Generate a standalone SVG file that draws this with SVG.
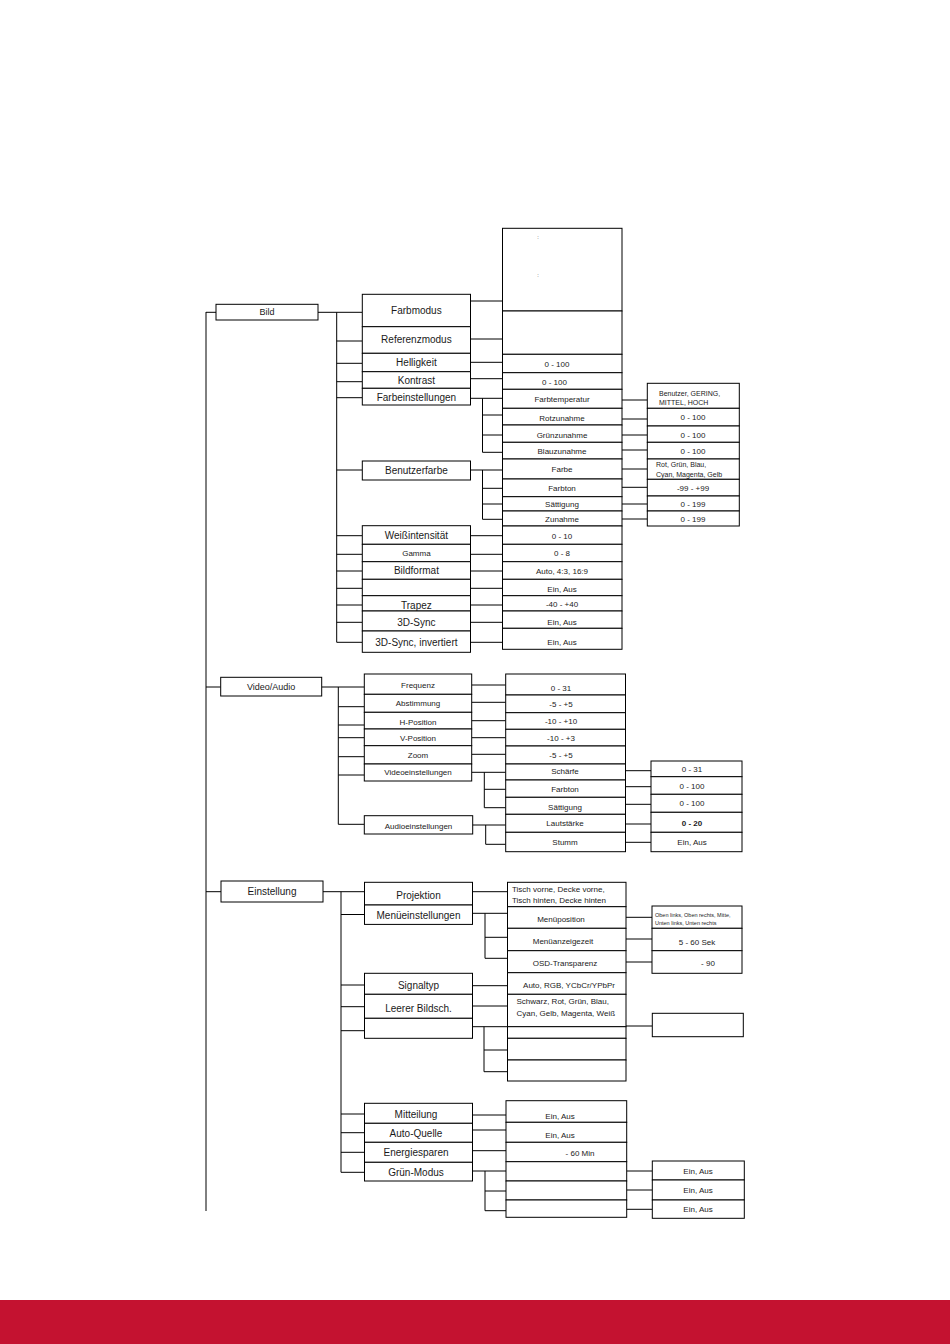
<svg xmlns="http://www.w3.org/2000/svg" width="950" height="1344" viewBox="0 0 950 1344">
<style>
.b{fill:#fff;stroke:#000;stroke-width:1}
.c{fill:none;stroke:#000;stroke-width:1}
text{font-family:"Liberation Sans",Arial,sans-serif;fill:#1a1a1a;text-anchor:middle}
.s{text-anchor:start}
.t10{font-size:10px}
.t9{font-size:9px}
.t8{font-size:8px}
.t7{font-size:7px}
.t5{font-size:5.5px}
.bd{font-weight:bold}
</style>
<rect x="0" y="0" width="950" height="1344" fill="#fff"/>
<g id="connectors">
<path class="c" d="M206 312 V1211 M206 312.3 H216 M206 687 H220.7 M206 891.7 H221
M318 312.3 H362 M336.7 312.3 V642.3 M336.7 341 H362 M336.7 363.3 H362 M336.7 381.7 H362 M336.7 397.7 H362 M336.7 470 H362 M336.7 535.7 H362 M336.7 554.3 H362 M336.7 571 H362 M336.7 588.3 H362 M336.7 605 H362 M336.7 622.3 H362 M336.7 642.3 H362
M470.5 301 H502.5 M470.5 339 H502.5 M470.5 362.3 H502.5 M470.5 378.7 H502.5 M470.5 398.3 H502.5 M482.5 398.3 V452.3 M482.5 415 H502.5 M482.5 435 H502.5 M482.5 452.3 H502.5 M470.5 470 H502.5 M482.5 470 V519.3 M482.5 488.3 H502.5 M482.5 504 H502.5 M482.5 519.3 H502.5 M470.5 535.7 H502.5 M470.5 554.3 H502.5 M470.5 571 H502.5 M470.5 588.3 H502.5 M470.5 605 H502.5 M470.5 622.3 H502.5 M470.5 642.3 H502.5
M622 400 H647.3 M622 419 H647.3 M622 435 H647.3 M622 450 H647.3 M622 469 H647.3 M622 487.3 H647.3 M622 504 H647.3 M622 519 H647.3
M321.7 687 H364.3 M338.3 687 V824.3 M338.3 706.7 H364.3 M338.3 725 H364.3 M338.3 737.7 H364.3 M338.3 756.7 H364.3 M338.3 775 H364.3 M338.3 824.3 H364.3
M471.7 685 H505.7 M471.7 702.3 H505.7 M471.7 720.7 H505.7 M471.7 737.7 H505.7 M471.7 754.3 H505.7 M471.7 772.3 H505.7 M484.3 772.3 V807.7 M484.3 789.3 H505.7 M484.3 807.7 H505.7 M471.7 825 H505.7 M485.7 825 V844.3 H505.7
M625.5 770.7 H651 M625.5 786.7 H651 M625.5 804.3 H651 M625.5 824 H651 M625.5 842.3 H651
M323 891.7 H364.5 M341 891.7 V1172.3 M341 914.5 H364.5 M341 985 H364.5 M341 1006.7 H364.5 M341 1030.7 H364.5 M341 1114 H364.5 M341 1132.7 H364.5 M341 1152.3 H364.5 M341 1172.3 H364.5
M472.5 891.7 H507.5 M472.5 913.3 H507.5 M485 913.3 V958.3 M485 937.3 H507.5 M485 958.3 H507.5 M472.5 985.7 H507.5 M472.5 1006 H507.5 M472.5 1026.7 H507.5 M484 1026.7 V1071.7 M484 1050 H507.5 M484 1071.7 H507.5
M472.5 1115 H506 M472.5 1130 H506 M472.5 1150.7 H506 M472.5 1171 H506 M485 1171 V1210.7 M485 1191 H506 M485 1210.7 H506
M626 917.3 H652 M626 939 H652 M626 962 H652 M626 1026 H652.3 M626.7 1171 H652.3 M626.7 1190 H652.3 M626.7 1209.3 H652.3"/>
</g>

<!-- Bild -->
<g id="bild"><rect class="b" x="216" y="304.3" width="102" height="15.7"/><text class="t9" x="267" y="315.3">Bild</text></g>
<g id="farbmodus"><rect class="b" x="362.3" y="294.3" width="108.2" height="32.4"/><text class="t10" x="416.4" y="313.5">Farbmodus</text></g>
<g id="referenzmodus"><rect class="b" x="362.3" y="326.7" width="108.2" height="26.6"/><text class="t10" x="416.4" y="342.5">Referenzmodus</text></g>
<g id="helligkeit"><rect class="b" x="362.3" y="353.3" width="108.2" height="18.4"/><text class="t10" x="416.4" y="365.5">Helligkeit</text></g>
<g id="kontrast"><rect class="b" x="362.3" y="371.7" width="108.2" height="16.6"/><text class="t10" x="416.4" y="383.5">Kontrast</text></g>
<g id="farbeinstellungen"><rect class="b" x="362.3" y="388.3" width="108.2" height="16.7"/><text class="t10" x="416.4" y="400.8">Farbeinstellungen</text></g>
<g id="benutzerfarbe"><rect class="b" x="362.3" y="461" width="108.2" height="19"/><text class="t10" x="416.4" y="473.7">Benutzerfarbe</text></g>
<g id="weissintensitaet"><rect class="b" x="362.3" y="525.7" width="108.2" height="18.6"/><text class="t10" x="416.4" y="538.8">Weißintensität</text></g>
<g id="gamma"><rect class="b" x="362.3" y="544.3" width="108.2" height="17.4"/><text class="t8" x="416.4" y="556">Gamma</text></g>
<g id="bildformat"><rect class="b" x="362.3" y="561.7" width="108.2" height="17.6"/><text class="t10" x="416.4" y="574">Bildformat</text></g>
<g id="bild-blank"><rect class="b" x="362.3" y="579.3" width="108.2" height="16.4"/></g>
<g id="trapez"><rect class="b" x="362.3" y="595.7" width="108.2" height="15.3"/><text class="t10" x="416.4" y="608.7">Trapez</text></g>
<g id="sync3d"><rect class="b" x="362.3" y="611" width="108.2" height="20"/><text class="t10" x="416.4" y="625.8">3D-Sync</text></g>
<g id="sync3d-inv"><rect class="b" x="362.3" y="631" width="108.2" height="21.3"/><text class="t10" x="416.4" y="645.8">3D-Sync, invertiert</text></g>

<g id="farbmodus-val"><rect class="b" x="502.5" y="228.3" width="119.5" height="82.7"/><text class="t5" x="538" y="238.5">:</text><text class="t5" x="538" y="277">:</text></g>
<g id="referenzmodus-val"><rect class="b" x="502.5" y="311" width="119.5" height="43.3"/></g>
<g id="helligkeit-val"><rect class="b" x="502.5" y="354.3" width="119.5" height="18.4"/><text class="t8" x="557" y="366.8">0 - 100</text></g>
<g id="kontrast-val"><rect class="b" x="502.5" y="372.7" width="119.5" height="16.6"/><text class="t8" x="554.5" y="385">0 - 100</text></g>
<g id="farbtemperatur"><rect class="b" x="502.5" y="389.3" width="119.5" height="19"/><text class="t8" x="562" y="401.5">Farbtemperatur</text></g>
<g id="rotzunahme"><rect class="b" x="502.5" y="408.3" width="119.5" height="16.7"/><text class="t8" x="562" y="420.5">Rotzunahme</text></g>
<g id="gruenzunahme"><rect class="b" x="502.5" y="425" width="119.5" height="17.3"/><text class="t8" x="562" y="437.8">Grünzunahme</text></g>
<g id="blauzunahme"><rect class="b" x="502.5" y="442.3" width="119.5" height="16.7"/><text class="t8" x="562" y="453.7">Blauzunahme</text></g>
<g id="farbe"><rect class="b" x="502.5" y="459" width="119.5" height="20"/><text class="t8" x="562" y="472.3">Farbe</text></g>
<g id="farbton"><rect class="b" x="502.5" y="479" width="119.5" height="17.7"/><text class="t8" x="562" y="491.3">Farbton</text></g>
<g id="saettigung"><rect class="b" x="502.5" y="496.7" width="119.5" height="14.3"/><text class="t8" x="562" y="507">Sättigung</text></g>
<g id="zunahme"><rect class="b" x="502.5" y="511" width="119.5" height="15"/><text class="t8" x="562" y="522">Zunahme</text></g>
<g id="weiss-val"><rect class="b" x="502.5" y="526" width="119.5" height="18.3"/><text class="t8" x="562" y="538.7">0 - 10</text></g>
<g id="gamma-val"><rect class="b" x="502.5" y="544.3" width="119.5" height="17.4"/><text class="t8" x="562" y="556">0 - 8</text></g>
<g id="bildformat-val"><rect class="b" x="502.5" y="561.7" width="119.5" height="17.6"/><text class="t8" x="562" y="574">Auto, 4:3, 16:9</text></g>
<g id="blank-val"><rect class="b" x="502.5" y="579.3" width="119.5" height="16.4"/><text class="t8" x="562" y="592">Ein, Aus</text></g>
<g id="trapez-val"><rect class="b" x="502.5" y="595.7" width="119.5" height="15.3"/><text class="t8" x="562" y="607.3">-40 - +40</text></g>
<g id="sync3d-val"><rect class="b" x="502.5" y="611" width="119.5" height="17.3"/><text class="t8" x="562" y="625.3">Ein, Aus</text></g>
<g id="sync3d-inv-val"><rect class="b" x="502.5" y="628.3" width="119.5" height="21"/><text class="t8" x="562" y="645.3">Ein, Aus</text></g>

<g id="farbtemperatur-val"><rect class="b" x="647.3" y="383.3" width="92" height="25"/><text class="t7 s" x="659" y="395.5">Benutzer, GERING,</text><text class="t7 s" x="659" y="404.5">MITTEL, HOCH</text></g>
<g id="rot-val"><rect class="b" x="647.3" y="408.3" width="92" height="17.7"/><text class="t8" x="693" y="420.3">0 - 100</text></g>
<g id="gruen-val"><rect class="b" x="647.3" y="426" width="92" height="16.3"/><text class="t8" x="693" y="437.5">0 - 100</text></g>
<g id="blau-val"><rect class="b" x="647.3" y="442.3" width="92" height="16.7"/><text class="t8" x="693" y="453.5">0 - 100</text></g>
<g id="farbe-val"><rect class="b" x="647.3" y="459" width="92" height="20.3"/><text class="t7 s" x="656" y="466.8">Rot, Grün, Blau,</text><text class="t7 s" x="656" y="476.8">Cyan, Magenta, Gelb</text></g>
<g id="farbton-val"><rect class="b" x="647.3" y="479.3" width="92" height="16.7"/><text class="t8" x="693" y="490.5">-99 - +99</text></g>
<g id="saettigung-val"><rect class="b" x="647.3" y="496" width="92" height="15"/><text class="t8" x="693" y="506.5">0 - 199</text></g>
<g id="zunahme-val"><rect class="b" x="647.3" y="511" width="92" height="15"/><text class="t8" x="693" y="521.5">0 - 199</text></g>

<!-- Video/Audio -->
<g id="videoaudio"><rect class="b" x="220.7" y="677.3" width="101" height="18.7"/><text class="t9" x="271.2" y="690">Video/Audio</text></g>
<g id="frequenz"><rect class="b" x="364.3" y="674" width="107.4" height="20.3"/><text class="t8" x="418" y="688">Frequenz</text></g>
<g id="abstimmung"><rect class="b" x="364.3" y="694.3" width="107.4" height="18"/><text class="t8" x="418" y="705.7">Abstimmung</text></g>
<g id="hposition"><rect class="b" x="364.3" y="712.3" width="107.4" height="16.7"/><text class="t8" x="418" y="724.7">H-Position</text></g>
<g id="vposition"><rect class="b" x="364.3" y="729" width="107.4" height="16.7"/><text class="t8" x="418" y="740.7">V-Position</text></g>
<g id="zoom"><rect class="b" x="364.3" y="745.7" width="107.4" height="18.3"/><text class="t8" x="418" y="758">Zoom</text></g>
<g id="videoeinstellungen"><rect class="b" x="364.3" y="764" width="107.4" height="17"/><text class="t8" x="418" y="775.3">Videoeinstellungen</text></g>
<g id="audioeinstellungen"><rect class="b" x="364.3" y="815.7" width="108.4" height="18.3"/><text class="t8" x="418.5" y="828.7">Audioeinstellungen</text></g>

<g id="frequenz-val"><rect class="b" x="505.7" y="674" width="119.8" height="21"/><text class="t8" x="561" y="690.7">0 - 31</text></g>
<g id="abstimmung-val"><rect class="b" x="505.7" y="695" width="119.8" height="17.7"/><text class="t8" x="561" y="707.3">-5 - +5</text></g>
<g id="hposition-val"><rect class="b" x="505.7" y="712.7" width="119.8" height="16.6"/><text class="t8" x="561" y="724">-10 - +10</text></g>
<g id="vposition-val"><rect class="b" x="505.7" y="729.3" width="119.8" height="16.7"/><text class="t8" x="561" y="740.7">-10 - +3</text></g>
<g id="zoom-val"><rect class="b" x="505.7" y="746" width="119.8" height="18"/><text class="t8" x="561" y="758">-5 - +5</text></g>
<g id="schaerfe"><rect class="b" x="505.7" y="764" width="119.8" height="16"/><text class="t8" x="565" y="773.7">Schärfe</text></g>
<g id="v-farbton"><rect class="b" x="505.7" y="780" width="119.8" height="17.3"/><text class="t8" x="565" y="792.3">Farbton</text></g>
<g id="v-saettigung"><rect class="b" x="505.7" y="797.3" width="119.8" height="17"/><text class="t8" x="565" y="809.7">Sättigung</text></g>
<g id="lautstaerke"><rect class="b" x="505.7" y="814.3" width="119.8" height="18"/><text class="t8" x="565" y="826.3">Lautstärke</text></g>
<g id="stumm"><rect class="b" x="505.7" y="832.3" width="119.8" height="19.4"/><text class="t8" x="565" y="845.3">Stumm</text></g>

<g id="schaerfe-val"><rect class="b" x="651" y="761" width="91" height="15.7"/><text class="t8" x="692" y="772.3">0 - 31</text></g>
<g id="v-farbton-val"><rect class="b" x="651" y="776.7" width="91" height="17.6"/><text class="t8" x="692" y="788.5">0 - 100</text></g>
<g id="v-saettigung-val"><rect class="b" x="651" y="794.3" width="91" height="18"/><text class="t8" x="692" y="806.3">0 - 100</text></g>
<g id="lautstaerke-val"><rect class="b" x="651" y="812.3" width="91" height="20"/><text class="t8 bd" x="692" y="825.5">0 - 20</text></g>
<g id="stumm-val"><rect class="b" x="651" y="832.3" width="91" height="19.4"/><text class="t8" x="692" y="845.3">Ein, Aus</text></g>

<!-- Einstellung -->
<g id="einstellung"><rect class="b" x="221" y="881" width="102" height="21"/><text class="t10" x="272" y="894.8">Einstellung</text></g>
<g id="projektion"><rect class="b" x="364.5" y="882.3" width="108" height="22.7"/><text class="t10" x="418.5" y="898.8">Projektion</text></g>
<g id="menueeinstellungen"><rect class="b" x="364.5" y="905" width="108" height="19.4"/><text class="t10" x="418.5" y="918.8">Menüeinstellungen</text></g>
<g id="signaltyp"><rect class="b" x="364.5" y="973.3" width="108" height="21"/><text class="t10" x="418.5" y="988.5">Signaltyp</text></g>
<g id="leerer"><rect class="b" x="364.5" y="994.3" width="108" height="24"/><text class="t10" x="418.5" y="1011.8">Leerer Bildsch.</text></g>
<g id="einst-blank"><rect class="b" x="364.5" y="1018.3" width="108" height="20"/></g>
<g id="mitteilung"><rect class="b" x="364.5" y="1103.3" width="108" height="20"/><text class="t10" x="416" y="1117.5">Mitteilung</text></g>
<g id="autoquelle"><rect class="b" x="364.5" y="1123.3" width="108" height="19"/><text class="t10" x="416" y="1136.8">Auto-Quelle</text></g>
<g id="energiesparen"><rect class="b" x="364.5" y="1142.3" width="108" height="20"/><text class="t10" x="416" y="1156.2">Energiesparen</text></g>
<g id="gruenmodus"><rect class="b" x="364.5" y="1162.3" width="108" height="18.7"/><text class="t10" x="416" y="1175.8">Grün-Modus</text></g>

<g id="projektion-val"><rect class="b" x="507.5" y="882.3" width="118.5" height="24.4"/><text class="t8 s" x="512" y="891.8">Tisch vorne, Decke vorne,</text><text class="t8 s" x="512" y="902.8">Tisch hinten, Decke hinten</text></g>
<g id="menueposition"><rect class="b" x="507.5" y="906.7" width="118.5" height="21.6"/><text class="t8" x="561" y="922">Menüposition</text></g>
<g id="menueanzeigezeit"><rect class="b" x="507.5" y="928.3" width="118.5" height="22.4"/><text class="t8" x="563" y="943.5">Menüanzeigezeit</text></g>
<g id="osd"><rect class="b" x="507.5" y="950.7" width="118.5" height="22"/><text class="t8" x="565" y="965.5">OSD-Transparenz</text></g>
<g id="signaltyp-val"><rect class="b" x="507.5" y="972.7" width="118.5" height="21.6"/><text class="t8" x="569" y="988">Auto, RGB, YCbCr/YPbPr</text></g>
<g id="leerer-val"><rect class="b" x="507.5" y="994.3" width="118.5" height="32.4"/><text class="t8 s" x="516.5" y="1004">Schwarz, Rot, Grün, Blau,</text><text class="t8 s" x="516.5" y="1015.5">Cyan, Gelb, Magenta, Weiß</text></g>
<g id="blank-a"><rect class="b" x="507.5" y="1026.7" width="118.5" height="11.6"/></g>
<g id="blank-b"><rect class="b" x="507.5" y="1038.3" width="118.5" height="21.7"/></g>
<g id="blank-c"><rect class="b" x="507.5" y="1060" width="118.5" height="21"/></g>
<g id="mitteilung-val"><rect class="b" x="506" y="1100.7" width="120.7" height="21.6"/><text class="t8" x="560" y="1118.5">Ein, Aus</text></g>
<g id="autoquelle-val"><rect class="b" x="506" y="1122.3" width="120.7" height="20"/><text class="t8" x="560" y="1138">Ein, Aus</text></g>
<g id="energiesparen-val"><rect class="b" x="506" y="1142.3" width="120.7" height="19.4"/><text class="t8" x="580" y="1156.3">- 60 Min</text></g>
<g id="gruen-a"><rect class="b" x="506" y="1161.7" width="120.7" height="19.3"/></g>
<g id="gruen-b"><rect class="b" x="506" y="1181" width="120.7" height="19"/></g>
<g id="gruen-c"><rect class="b" x="506" y="1200" width="120.7" height="17.3"/></g>

<g id="menueposition-val"><rect class="b" x="652" y="906" width="90" height="22.3"/><text class="t5 s" x="655" y="917">Oben links, Oben rechts, Mitte,</text><text class="t5 s" x="655" y="924.5">Unten links, Unten rechts</text></g>
<g id="menueanzeigezeit-val"><rect class="b" x="652" y="928.3" width="90" height="22.4"/><text class="t8" x="697" y="944.7">5 - 60 Sek</text></g>
<g id="osd-val"><rect class="b" x="652" y="950.7" width="90" height="22.6"/><text class="t8" x="708" y="966.3">- 90</text></g>
<g id="blank-val2"><rect class="b" x="652.3" y="1013.3" width="91" height="23.4"/></g>
<g id="gruen-a-val"><rect class="b" x="652.3" y="1161" width="92" height="19"/><text class="t8" x="698" y="1173.5">Ein, Aus</text></g>
<g id="gruen-b-val"><rect class="b" x="652.3" y="1180" width="92" height="20"/><text class="t8" x="698" y="1193">Ein, Aus</text></g>
<g id="gruen-c-val"><rect class="b" x="652.3" y="1200" width="92" height="18.3"/><text class="t8" x="698" y="1212">Ein, Aus</text></g>

<rect id="footer" x="0" y="1300" width="950" height="44" fill="#c41230"/>
</svg>
